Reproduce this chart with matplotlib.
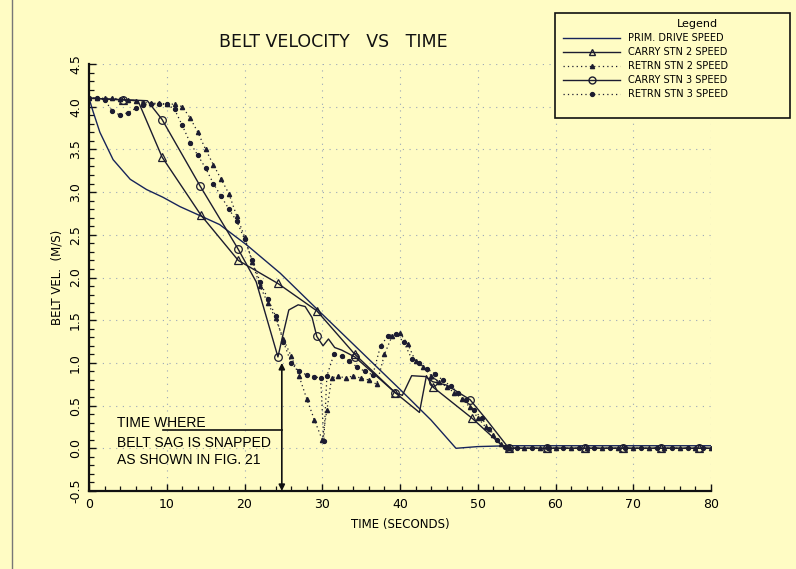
import matplotlib
matplotlib.use('Agg')
import matplotlib.pyplot as plt
from matplotlib.lines import Line2D
from matplotlib.patches import Rectangle
from matplotlib.ticker import MultipleLocator, FormatStrFormatter

# primary drive speed (solid, no markers)
prim_t = [0, 0.5, 1.4, 3.1, 5.3, 7.4, 9.5, 11.7, 13.9, 16.8, 20.3, 24.6, 30, 35, 40, 44, 47.2, 50, 54, 80]
prim_v = [4.1, 3.95, 3.7, 3.38, 3.15, 3.03, 2.94, 2.83, 2.74, 2.62, 2.38, 2.05, 1.57, 1.13, 0.69, 0.33, 0.0, 0.02, 0.03, 0.03]

# carry station 2 (solid, open triangles)
carry2_t = [0, 6.3, 9.4, 14.4, 19.2, 24.3, 29.3, 34.2, 39.4, 42.5, 43.4, 44.2, 49.3, 53.5, 80]
carry2_v = [4.1, 4.07, 3.41, 2.73, 2.2, 1.93, 1.61, 1.1, 0.65, 0.42, 0.85, 0.72, 0.35, 0.0, 0.0]
carry2_mt = [4.4, 9.4, 14.4, 19.2, 24.3, 29.3, 34.2, 39.4, 44.2, 49.3, 54.0, 58.9, 63.8, 68.7, 73.6, 78.4]
carry2_mv = [4.08, 3.41, 2.73, 2.2, 1.93, 1.61, 1.1, 0.65, 0.72, 0.35, 0.0, 0.0, 0.0, 0.0, 0.0, 0.0]

# carry station 3 (solid, open circles)
carry3_t = [0, 7.5, 9.4, 14.3, 19.2, 21.5, 24.3, 25.0, 25.7, 26.9, 27.8, 28.7, 29.3, 30.1, 30.8, 31.6,
            32.5, 34.2, 39.4, 40.3, 41.5, 43.3, 44.2, 46, 49.0, 51, 54, 80]
carry3_v = [4.1, 4.07, 3.85, 3.07, 2.33, 1.95, 1.07, 1.35, 1.62, 1.68, 1.66, 1.53, 1.31, 1.2, 1.28, 1.18,
            1.15, 1.07, 0.65, 0.62, 0.85, 0.84, 0.78, 0.74, 0.57, 0.35, 0.0, 0.0]
carry3_mt = [4.4, 9.4, 14.3, 19.2, 24.3, 29.3, 34.2, 39.4, 44.2, 49.0, 54.0, 58.9, 63.8, 68.7, 73.6, 78.4]
carry3_mv = [4.08, 3.85, 3.07, 2.33, 1.07, 1.31, 1.07, 0.65, 0.78, 0.57, 0.0, 0.0, 0.0, 0.0, 0.0, 0.0]

# return station 2 (dotted, small filled triangles)
retrn2_t = [0, 1, 2, 3, 4, 5, 6, 7, 8, 9, 10, 11, 12, 13, 14, 15, 16, 17, 18, 19, 20, 21, 22, 23, 24,
            25, 26, 27, 28, 29, 30, 30.6, 31.2, 32, 33, 34, 35, 36, 37, 38, 39, 40, 41, 42, 43, 44,
            45, 46, 47, 48, 49, 50, 51, 52, 53, 54, 56, 58, 60, 62, 64, 66, 68, 70, 72, 74, 76, 78, 80]
retrn2_v = [4.1, 4.1, 4.1, 4.1, 4.09, 4.08, 4.07, 4.05, 4.04, 4.04, 4.03, 4.03, 4.0, 3.87, 3.7, 3.5,
            3.32, 3.15, 2.98, 2.72, 2.48, 2.18, 1.9, 1.7, 1.52, 1.28, 1.08, 0.85, 0.58, 0.33, 0.1, 0.45,
            0.82, 0.85, 0.82, 0.85, 0.82, 0.8, 0.75, 1.1, 1.32, 1.35, 1.22, 1.02, 0.95, 0.85, 0.78, 0.72,
            0.65, 0.58, 0.48, 0.36, 0.25, 0.15, 0.05, 0.0, 0.0, 0.0, 0.0, 0.0, 0.0, 0.0, 0.0, 0.0, 0.0,
            0.0, 0.0, 0.0, 0.0]

# return station 3 (dotted, small dots)
retrn3_t = [0, 1, 2, 3, 4, 5, 6, 7, 8, 9, 10, 11, 12, 13, 14, 15, 16, 17, 18, 19, 20, 21, 22, 23, 24,
            25, 26, 27, 28, 29, 29.8, 30.2, 30.6, 31.5, 32.5, 33.5, 34.5, 35.5, 36.5, 37.5, 38.5, 39.5,
            40.5, 41.5, 42.5, 43.5, 44.5, 45.5, 46.5, 47.5, 48.5, 49.5, 50.5, 51.5, 52.5, 53.5,
            55, 57, 59, 61, 63, 65, 67, 69, 71, 73, 75, 77, 79]
retrn3_v = [4.1, 4.1, 4.08, 3.95, 3.9, 3.93, 3.98, 4.02, 4.03, 4.03, 4.03, 3.97, 3.78, 3.58, 3.43, 3.28,
            3.1, 2.95, 2.8, 2.66, 2.45, 2.2, 1.95, 1.75, 1.55, 1.25, 1.0, 0.9, 0.86, 0.84, 0.82, 0.08,
            0.85, 1.1, 1.08, 1.02, 0.95, 0.9, 0.86, 1.2, 1.32, 1.34, 1.24, 1.05, 1.0, 0.93, 0.87, 0.8,
            0.73, 0.65, 0.56, 0.45, 0.35, 0.23, 0.1, 0.01, 0.0, 0.0, 0.0, 0.0, 0.0, 0.0, 0.0, 0.0, 0.0,
            0.0, 0.0, 0.0, 0.0]

legend_labels = ['PRIM. DRIVE SPEED', 'CARRY STN 2 SPEED', 'RETRN STN 2 SPEED',
                 'CARRY STN 3 SPEED', 'RETRN STN 3 SPEED']

bg = '#fffcc4'
ink = '#1c1c30'
W, H = 796, 569

fig = plt.figure(figsize=(W / 100, H / 100), dpi=100, facecolor=bg)
ax = fig.add_axes([89 / W, 1 - 491 / H, 622 / W, 427 / H], facecolor=bg)

dot = (0, (1, 2.5))
ax.plot(prim_t, prim_v, color='#17245a', lw=1.0)
ax.plot(carry2_t, carry2_v, color=ink, lw=1.0)
ax.plot(carry2_mt, carry2_mv, ls='none', marker='^', ms=5.5, mfc='none', mec=ink, mew=0.9)
ax.plot(carry3_t, carry3_v, color=ink, lw=1.0)
ax.plot(carry3_mt, carry3_mv, ls='none', marker='o', ms=5.5, mfc='none', mec=ink, mew=0.9)
ax.plot(retrn2_t, retrn2_v, color=ink, lw=0.9, ls=dot, marker='^', ms=3, mfc=ink, mec=ink)
ax.plot(retrn3_t, retrn3_v, color=ink, lw=0.9, ls=dot, marker='o', ms=2.8, mfc=ink, mec=ink)

ax.set_xlim(0, 80)
ax.set_ylim(-0.5, 4.5)
ax.xaxis.set_major_locator(MultipleLocator(10))
ax.xaxis.set_minor_locator(MultipleLocator(2))
ax.yaxis.set_major_locator(MultipleLocator(0.5))
ax.yaxis.set_minor_locator(MultipleLocator(0.1))
ax.yaxis.set_major_formatter(FormatStrFormatter('%.1f'))
ax.grid(True, which='major', color='#9aa6b8', lw=0.8, ls=(0, (1, 5)))
ax.set_axisbelow(True)

for s in ['top', 'right']:
    ax.spines[s].set_visible(False)
for s in ['left', 'bottom']:
    ax.spines[s].set_linewidth(1.6)
    ax.spines[s].set_color('#111111')

ax.tick_params(which='major', direction='in', length=5, width=1.0, color='#111111',
               labelsize=9, pad=5)
ax.tick_params(which='minor', direction='in', length=3.5, width=0.9, color='#111111')
plt.setp(ax.get_yticklabels(), rotation=90, va='center')

ax.set_xlabel('TIME (SECONDS)', fontsize=8.5, labelpad=5)
ax.set_ylabel('BELT VEL.  (M/S)', fontsize=8.5, labelpad=4)

fig.text(333 / W, 1 - 42 / H, 'BELT VELOCITY   VS   TIME', fontsize=12.5,
         ha='center', va='center', color='#111111')

# annotation
ax.text(3.6, 0.30, 'TIME WHERE', family='Liberation Sans', fontsize=10, va='center')
ax.text(3.6, 0.06, 'BELT SAG IS SNAPPED', family='Liberation Sans', fontsize=10, va='center')
ax.text(3.6, -0.14, 'AS SHOWN IN FIG. 21', family='Liberation Sans', fontsize=10, va='center')
ax.plot([9.5, 24.8], [0.21, 0.21], color='#111111', lw=1.2)
ax.annotate('', xy=(24.8, -0.5), xytext=(24.8, 1.0),
            arrowprops=dict(arrowstyle='<|-|>', color='#111111', lw=1.2,
                            mutation_scale=9, shrinkA=0, shrinkB=0))

# legend box
fig.add_artist(Rectangle((555 / W, 1 - 118 / H), 235 / W, 105 / H, transform=fig.transFigure,
                         facecolor=bg, edgecolor='#111111', lw=1.2))
fig.text(697 / W, 1 - 24 / H, 'Legend', fontsize=8, ha='center', va='center')
handles = [
    Line2D([], [], color='#17245a', lw=1.0),
    Line2D([], [], color=ink, lw=1.0, marker='^', ms=5, mfc='none', mec=ink),
    Line2D([], [], color=ink, lw=0.9, ls=dot, marker='^', ms=3, mfc=ink, mec=ink),
    Line2D([], [], color=ink, lw=1.0, marker='o', ms=5, mfc='none', mec=ink),
    Line2D([], [], color=ink, lw=0.9, ls=dot, marker='o', ms=2.8, mfc=ink, mec=ink),
]
leg = fig.legend(handles, legend_labels, loc='upper left',
                 bbox_to_anchor=(563 / W, 1 - 33 / H), bbox_transform=fig.transFigure,
                 frameon=False, fontsize=7, borderpad=0, borderaxespad=0,
                 handlelength=5.9, handletextpad=0.8, labelspacing=0.42)

# scanner edge
fig.add_artist(Line2D([12 / W, 12 / W], [0, 1], transform=fig.transFigure, color='#777777', lw=1.0))

fig.savefig('out.png', dpi=100, facecolor=bg)
